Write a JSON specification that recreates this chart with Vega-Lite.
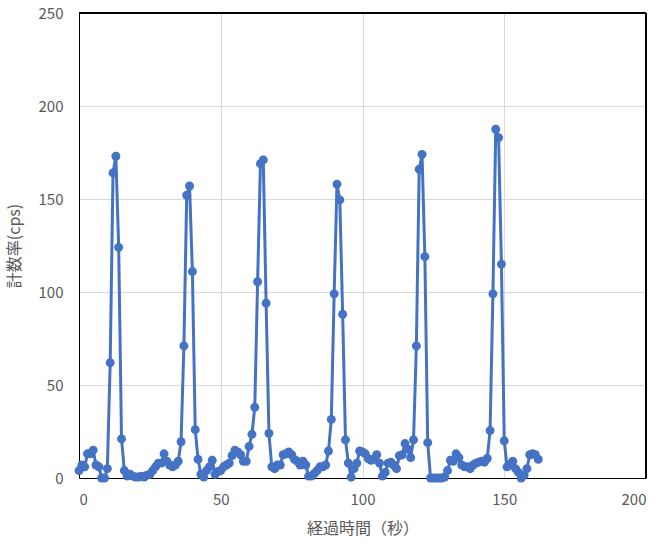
{
  "$schema": "https://vega.github.io/schema/vega-lite/v6.json",
  "autosize": "none",
  "width": 567,
  "height": 465,
  "padding": {"left": 79, "top": 13, "right": 22, "bottom": 71},
  "background": "white",
  "config": {
    "view": {"stroke": null},
    "font": "Noto Sans CJK JP"
  },
  "data": {
    "values": [
      {"t":0,"c":4},{"t":1,"c":7},{"t":2,"c":6},{"t":3,"c":13},{"t":4,"c":13},{"t":5,"c":15},{"t":6,"c":7},{"t":7,"c":6},{"t":8,"c":0},{"t":9,"c":0},
      {"t":10,"c":5},{"t":11,"c":62},{"t":12,"c":164},{"t":13,"c":173},{"t":14,"c":124},{"t":15,"c":21},{"t":16,"c":4},{"t":17,"c":1},{"t":18,"c":2},{"t":19,"c":1},
      {"t":20,"c":0.5},{"t":21,"c":0.5},{"t":22,"c":1},{"t":23,"c":0.5},{"t":24,"c":1.5},{"t":25,"c":2},{"t":26,"c":4},{"t":27,"c":6},{"t":28,"c":8},{"t":29,"c":8},
      {"t":30,"c":13},{"t":31,"c":9},{"t":32,"c":7},{"t":33,"c":6},{"t":34,"c":7},{"t":35,"c":9},{"t":36,"c":19.5},{"t":37,"c":71},{"t":38,"c":152},{"t":39,"c":157},
      {"t":40,"c":111},{"t":41,"c":26},{"t":42,"c":10},{"t":43,"c":2},{"t":44,"c":0.5},{"t":45,"c":4},{"t":46,"c":6},{"t":47,"c":9.5},{"t":48,"c":2},{"t":49,"c":3.5},
      {"t":50,"c":4},{"t":51,"c":6},{"t":52,"c":7},{"t":53,"c":8},{"t":54,"c":12},{"t":55,"c":15},{"t":56,"c":14},{"t":57,"c":12.5},{"t":58,"c":9},{"t":59,"c":9},
      {"t":60,"c":17},{"t":61,"c":23.5},{"t":62,"c":38},{"t":63,"c":105.5},{"t":64,"c":169},{"t":65,"c":171},{"t":66,"c":94},{"t":67,"c":24},{"t":68,"c":6},{"t":69,"c":5},
      {"t":70,"c":7},{"t":71,"c":7},{"t":72,"c":12.5},{"t":73,"c":13},{"t":74,"c":14},{"t":75,"c":12.5},{"t":76,"c":10},{"t":77,"c":9},{"t":78,"c":7},{"t":79,"c":9},
      {"t":80,"c":7},{"t":81,"c":1},{"t":82,"c":1},{"t":83,"c":2.5},{"t":84,"c":4},{"t":85,"c":6},{"t":86,"c":6},{"t":87,"c":7},{"t":88,"c":14.5},{"t":89,"c":31.5},
      {"t":90,"c":99},{"t":91,"c":158},{"t":92,"c":149.5},{"t":93,"c":88},{"t":94,"c":20.5},{"t":95,"c":8},{"t":96,"c":0.5},{"t":97,"c":5},{"t":98,"c":8},{"t":99,"c":14.5},
      {"t":100,"c":14},{"t":101,"c":13},{"t":102,"c":10.5},{"t":103,"c":9.5},{"t":104,"c":10},{"t":105,"c":12.5},{"t":106,"c":8},{"t":107,"c":1},{"t":108,"c":3},{"t":109,"c":8},
      {"t":110,"c":8.5},{"t":111,"c":7},{"t":112,"c":5},{"t":113,"c":12},{"t":114,"c":12.5},{"t":115,"c":18.5},{"t":116,"c":15.5},{"t":117,"c":11},{"t":118,"c":20.5},{"t":119,"c":71},
      {"t":120,"c":166},{"t":121,"c":174},{"t":122,"c":119},{"t":123,"c":19},{"t":124,"c":0},{"t":125,"c":0},{"t":126,"c":0},{"t":127,"c":0},{"t":128,"c":0},{"t":129,"c":0.5},
      {"t":130,"c":4},{"t":131,"c":9.5},{"t":132,"c":9},{"t":133,"c":13},{"t":134,"c":11},{"t":135,"c":7},{"t":136,"c":6},{"t":137,"c":6},{"t":138,"c":5},{"t":139,"c":7},
      {"t":140,"c":8},{"t":141,"c":8.5},{"t":142,"c":9},{"t":143,"c":8.5},{"t":144,"c":10.5},{"t":145,"c":25.5},{"t":146,"c":99},{"t":147,"c":187.5},{"t":148,"c":183},{"t":149,"c":115},
      {"t":150,"c":20},{"t":151,"c":6},{"t":152,"c":7},{"t":153,"c":9},{"t":154,"c":5},{"t":155,"c":3},{"t":156,"c":0},{"t":157,"c":1.5},{"t":158,"c":5},{"t":159,"c":12.5},
      {"t":160,"c":13},{"t":161,"c":12.5},{"t":162,"c":10}
    ]
  },
  "layer": [
    {
      "mark": {"type": "rule", "color": "#000000", "strokeWidth": 1},
      "encoding": {"y": {"datum": 250, "type": "quantitative"}}
    },
    {
      "mark": {"type": "rule", "color": "#000000", "strokeWidth": 1},
      "encoding": {"x": {"datum": 200, "type": "quantitative"}}
    },
    {
      "mark": {
        "type": "line",
        "color": "#4472C4",
        "strokeWidth": 3,
        "point": {"filled": true, "size": 80, "color": "#4472C4", "opacity": 1}
      },
      "encoding": {
        "x": {
          "field": "t",
          "type": "quantitative",
          "scale": {"domain": [0, 200], "nice": false, "zero": false},
          "axis": {
            "title": "経過時間（秒）",
            "values": [0, 50, 100, 150, 200],
            "grid": true,
            "gridColor": "#D9D9D9",
            "gridWidth": 1,
            "domain": true,
            "domainColor": "#000000",
            "domainWidth": 1,
            "ticks": false,
            "labelFont": "Noto Sans CJK JP",
            "labelFontSize": 15,
            "labelColor": "#595959",
            "labelPadding": 14,
            "titleFont": "Noto Sans CJK JP",
            "titleFontSize": 16,
            "titleFontWeight": "normal",
            "titleColor": "#595959",
            "titlePadding": 13
          }
        },
        "y": {
          "field": "c",
          "type": "quantitative",
          "scale": {"domain": [0, 250], "nice": false},
          "axis": {
            "title": "計数率(cps)",
            "values": [0, 50, 100, 150, 200, 250],
            "grid": true,
            "gridColor": "#D9D9D9",
            "gridWidth": 1,
            "domain": true,
            "domainColor": "#000000",
            "domainWidth": 1,
            "ticks": false,
            "labelFont": "Noto Sans CJK JP",
            "labelFontSize": 15,
            "labelColor": "#595959",
            "labelPadding": 16,
            "titleFont": "Noto Sans CJK JP",
            "titleFontSize": 16,
            "titleFontWeight": "normal",
            "titleColor": "#595959",
            "titlePadding": 16
          }
        }
      }
    }
  ]
}
